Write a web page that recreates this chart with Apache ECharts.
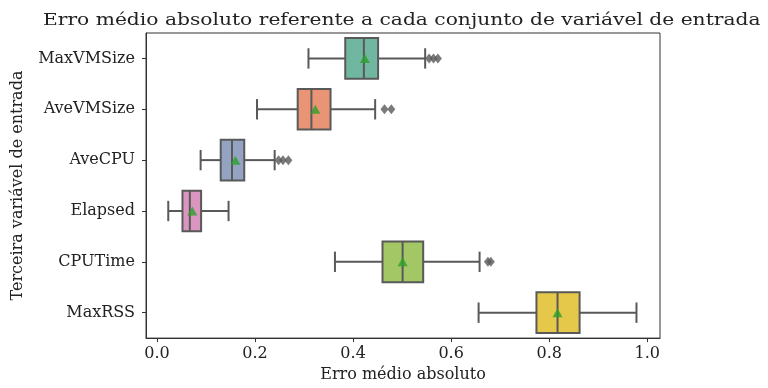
<!DOCTYPE html>
<html>
<head>
<meta charset="utf-8">
<script src="https://cdn.jsdelivr.net/npm/echarts@6/dist/echarts.min.js"></script>
<style>html,body{margin:0;padding:0;background:#fff}#c{width:768px;height:388px}</style>
</head>
<body>
<div id="c"></div>
<script>
const categories = ['MaxVMSize', 'AveVMSize', 'AveCPU', 'Elapsed', 'CPUTime', 'MaxRSS'];
const whiskerLow = [0.309, 0.204, 0.089, 0.023, 0.363, 0.656];
const q1 = [0.384, 0.287, 0.130, 0.052, 0.460, 0.774];
const median = [0.422, 0.315, 0.153, 0.067, 0.501, 0.817];
const q3 = [0.451, 0.354, 0.178, 0.090, 0.543, 0.862];
const whiskerHigh = [0.547, 0.445, 0.240, 0.146, 0.658, 0.978];
const means = [0.424, 0.323, 0.160, 0.072, 0.501, 0.817];
const outliers = [[0.555, 0.564, 0.573], [0.464, 0.478], [0.248, 0.257, 0.268], [], [0.675, 0.681], []];
const xTicks = [0.0, 0.2, 0.4, 0.6, 0.8, 1.0];
const titleText = 'Erro médio absoluto referente a cada conjunto de variável de entrada';

const boxColors = ['#71b6a1', '#e99575', '#95a3c3', '#db96c0', '#a2c764', '#e5c849'];
const lineGray = '#595959';
const FONT = 'DejaVu Serif';

const boxData = categories.map((c, i) => [i, whiskerLow[i], q1[i], median[i], q3[i], whiskerHigh[i]]);
const meanData = categories.map((c, i) => [means[i], i]);
const outlierData = [];
outliers.forEach((arr, i) => arr.forEach(v => outlierData.push([v, i])));

const chart = echarts.init(document.getElementById('c'));
chart.setOption({
  backgroundColor: '#fff',
  animation: false,
  graphic: [{
    type: 'text', x: 43, y: 20, scaleX: 1.19, scaleY: 1.03,
    style: { text: titleText, font: '17px "DejaVu Serif"', fill: '#222', verticalAlign: 'middle', align: 'left' }
  }],
  grid: { left: 146, right: 108, top: 33, bottom: 43, show: true, borderColor: '#333', borderWidth: 1, backgroundColor: 'transparent' },
  xAxis: {
    type: 'value', min: -0.0224, max: 1.026,
    name: 'Erro médio absoluto', nameLocation: 'middle', nameGap: 28,
    nameTextStyle: { fontFamily: FONT, fontSize: 16, color: '#222' },
    axisLine: { show: true, onZero: false, lineStyle: { color: '#333', width: 1 } },
    axisTick: { show: true, length: 4, lineStyle: { color: '#333' }, customValues: xTicks },
    axisLabel: { fontFamily: FONT, fontSize: 16, color: '#222', margin: 8, customValues: xTicks,
      formatter: v => v.toFixed(1) },
    splitLine: { show: false }
  },
  yAxis: {
    type: 'category', data: categories, inverse: true,
    name: 'Terceira variável de entrada', nameLocation: 'middle', nameGap: 120, nameRotate: 90,
    nameTextStyle: { fontFamily: FONT, fontSize: 16, color: '#222' },
    axisLine: { show: true, onZero: false, lineStyle: { color: '#333', width: 1 } },
    axisTick: { show: true, length: 4, alignWithLabel: true, lineStyle: { color: '#333' } },
    axisLabel: { fontFamily: FONT, fontSize: 16, color: '#222', margin: 11 },
    splitLine: { show: false }
  },
  series: [
    {
      type: 'custom',
      data: boxData,
      encode: { x: [1, 2, 3, 4, 5], y: 0 },
      z: 2,
      renderItem: function (params, api) {
        const idx = api.value(0);
        const pLow = api.coord([api.value(1), idx]);
        const pQ1 = api.coord([api.value(2), idx]);
        const pMed = api.coord([api.value(3), idx]);
        const pQ3 = api.coord([api.value(4), idx]);
        const pHigh = api.coord([api.value(5), idx]);
        const band = api.size([0, 1])[1];
        const h = band * 0.8;
        const cap = h / 2;
        const cy = pMed[1];
        const ls = { stroke: lineGray, lineWidth: 2, fill: null };
        return {
          type: 'group',
          children: [
            { type: 'line', shape: { x1: pLow[0], y1: cy, x2: pQ1[0], y2: cy }, style: ls },
            { type: 'line', shape: { x1: pQ3[0], y1: cy, x2: pHigh[0], y2: cy }, style: ls },
            { type: 'line', shape: { x1: pLow[0], y1: cy - cap / 2, x2: pLow[0], y2: cy + cap / 2 }, style: ls },
            { type: 'line', shape: { x1: pHigh[0], y1: cy - cap / 2, x2: pHigh[0], y2: cy + cap / 2 }, style: ls },
            { type: 'rect', shape: { x: pQ1[0], y: cy - h / 2, width: pQ3[0] - pQ1[0], height: h },
              style: { fill: boxColors[params.dataIndex], stroke: lineGray, lineWidth: 2 } },
            { type: 'line', shape: { x1: pMed[0], y1: cy - h / 2, x2: pMed[0], y2: cy + h / 2 }, style: ls }
          ]
        };
      }
    },
    {
      type: 'scatter', data: outlierData, symbol: 'diamond', symbolSize: [8, 10], z: 3,
      itemStyle: { color: lineGray }
    },
    {
      type: 'scatter', data: meanData, symbol: 'triangle', symbolSize: [10, 9], z: 4,
      itemStyle: { color: '#2ca02c' }
    }
  ]
});
</script>
</body>
</html>
